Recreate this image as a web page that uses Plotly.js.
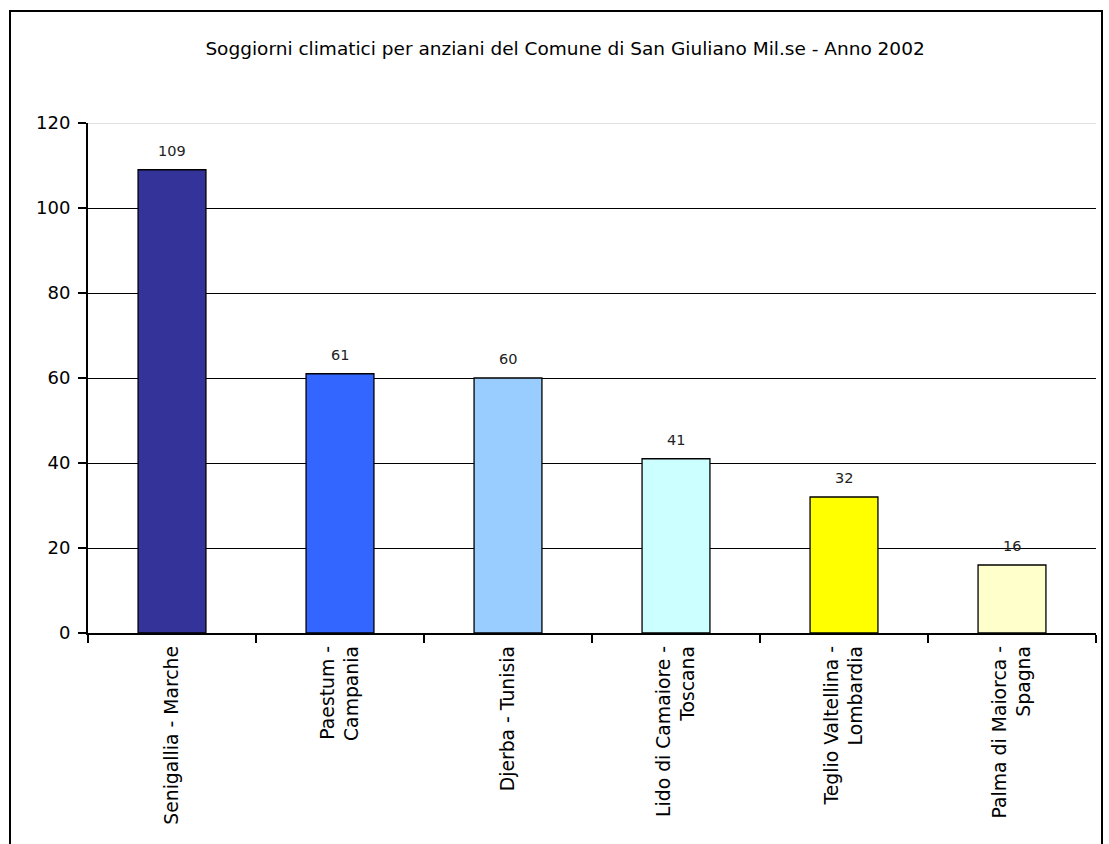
<!DOCTYPE html>
<html>
<head>
<meta charset="utf-8">
<script src="https://cdn.plot.ly/plotly-3.0.1.min.js"></script>
<style>
  html, body { margin:0; padding:0; background:#ffffff; }
  #frame { position:absolute; left:9px; top:10px; width:1094px; height:900px; border:2px solid #000; box-sizing:border-box; }
  #chart { position:absolute; left:0; top:0; width:1109px; height:844px; }
</style>
</head>
<body>
<div id="frame"></div>
<div id="chart"></div>
<script>
const titleText = "Soggiorni climatici per anziani del Comune di San Giuliano Mil.se - Anno 2002";
const categories = [
  "Senigallia - Marche",
  "Paestum -<br>Campania",
  "Djerba - Tunisia",
  "Lido di Camaiore -<br>Toscana",
  "Teglio Valtellina -<br>Lombardia",
  "Palma di Maiorca -<br>Spagna"
];
const values = [109, 61, 60, 41, 32, 16];
const barColors = ["#333399", "#3366FF", "#99CCFF", "#CCFFFF", "#FFFF00", "#FFFFCC"];
const yTicks = [0, 20, 40, 60, 80, 100, 120];

const FONT = "DejaVu Sans, Verdana, sans-serif";

const trace = {
  type: "bar",
  x: categories,
  y: values,
  width: 0.404,
  marker: { color: barColors, line: { color: "#000000", width: 1.3 } },
  hoverinfo: "x+y"
};

const annotations = categories.map((c, i) => ({
  x: c, y: values[i], xref: "x", yref: "y",
  text: String(values[i]), showarrow: false,
  yanchor: "bottom", yshift: 9,
  font: { family: FONT, size: 14.5, color: "#222222" }
}));

const layout = {
  width: 1109, height: 844,
  margin: { l: 88, r: 13, t: 123, b: 211 },
  paper_bgcolor: "rgba(0,0,0,0)",
  plot_bgcolor: "rgba(0,0,0,0)",
  showlegend: false,
  title: {
    text: titleText,
    x: 0.5095, xref: "container", xanchor: "center",
    y: 0.943, yref: "container", yanchor: "middle",
    font: { family: FONT, size: 18.5, color: "#000000" }
  },
  xaxis: {
    type: "category",
    tickson: "boundaries",
    ticks: "outside", ticklen: 8, tickwidth: 1.5, tickcolor: "#000",
    showline: true, linecolor: "#000", linewidth: 1.5,
    showgrid: false, zeroline: false,
    tickangle: -90,
    ticklabelstandoff: 4,
    tickfont: { family: FONT, size: 18.8, color: "#000" }
  },
  yaxis: {
    range: [0, 120],
    tickvals: yTicks,
    ticks: "outside", ticklen: 8, tickwidth: 1.5, tickcolor: "#000",
    showline: true, linecolor: "#000", linewidth: 2,
    showgrid: true, gridcolor: "#000", gridwidth: 1,
    zeroline: false,
    ticklabelstandoff: 4,
    tickfont: { family: FONT, size: 18, color: "#000" }
  },
  annotations: annotations,
  shapes: [{
    type: "line", xref: "paper", yref: "y", x0: 0, x1: 1, y0: yTicks[yTicks.length-1], y1: yTicks[yTicks.length-1],
    line: { color: "#c0c0c0", width: 1.2 }, layer: "above"
  }]
};

Plotly.newPlot("chart", [trace], layout, { displayModeBar: false, staticPlot: true });
</script>
</body>
</html>
